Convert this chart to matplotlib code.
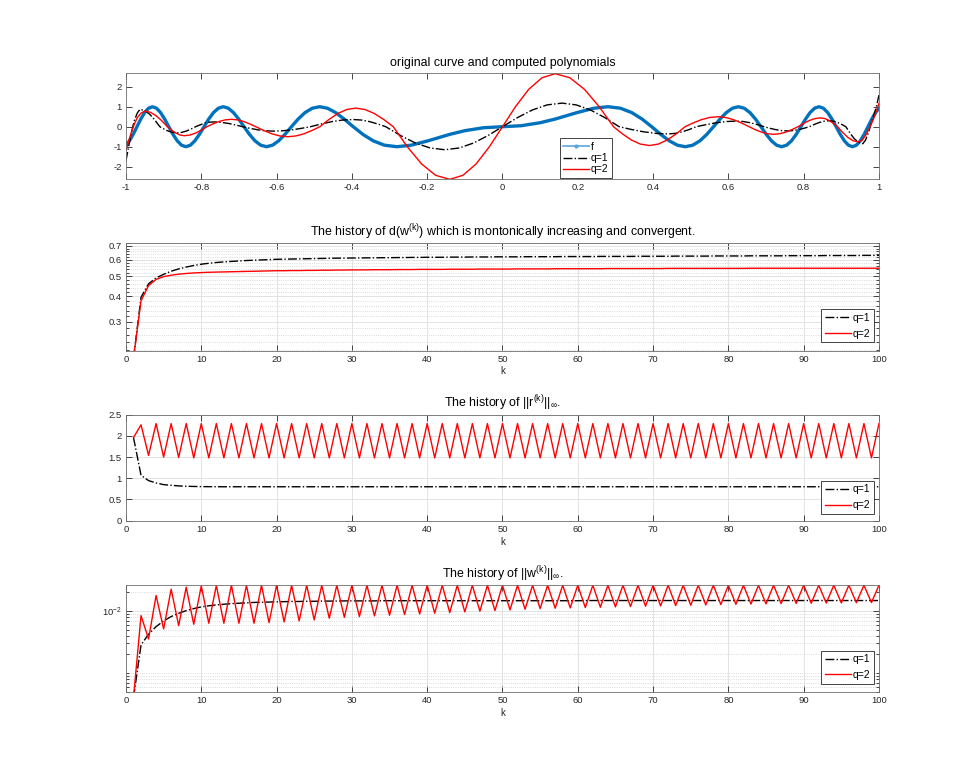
import numpy as np
import matplotlib
matplotlib.use('Agg')
from matplotlib import pyplot as plt
from matplotlib.lines import Line2D
from matplotlib.ticker import FixedLocator, NullFormatter

plt.rcParams['font.family'] = ['Liberation Sans', 'DejaVu Sans']
plt.rcParams['mathtext.fontset'] = 'custom'
plt.rcParams['mathtext.rm'] = 'Liberation Sans'
plt.rcParams['mathtext.it'] = 'Liberation Sans'
plt.rcParams['mathtext.default'] = 'regular'
plt.rcParams['axes.unicode_minus'] = False

# ---- panel 1: original curve f and the two polynomials ----
f_x = [-1.0, -0.99083, -0.98088, -0.97081, -0.96065, -0.95037, -0.93999, -0.92948,
       -0.91886, -0.90811, -0.89724, -0.88623, -0.87508, -0.86379, -0.85234, -0.84075,
       -0.82899, -0.81706, -0.80496, -0.79267, -0.78018, -0.7675, -0.7546, -0.74147,
       -0.72811, -0.7145, -0.70063, -0.68647, -0.67202, -0.65725, -0.64213, -0.62666,
       -0.61079, -0.5945, -0.57775, -0.5605, -0.5427, -0.5243, -0.50523, -0.48541,
       -0.46474, -0.44312, -0.42037, -0.39633, -0.37074, -0.34324, -0.31333, -0.28025,
       -0.2427, -0.19817, -0.14012, -0.1, -0.05,
       0.0,
       0.05, 0.1, 0.14012, 0.19817, 0.2427, 0.28025, 0.31333, 0.34324, 0.37074, 0.39633,
       0.42037, 0.44312, 0.46474, 0.48541, 0.50523, 0.5243, 0.5427, 0.5605, 0.57775,
       0.5945, 0.61079, 0.62666, 0.64213, 0.65725, 0.67202, 0.68647, 0.70063, 0.7145,
       0.72811, 0.74147, 0.7546, 0.7675, 0.78018, 0.79267, 0.80496, 0.81706, 0.82899,
       0.84075, 0.85234, 0.86379, 0.87508, 0.88623, 0.89724, 0.90811, 0.91886, 0.92948,
       0.93999, 0.95037, 0.96065, 0.97081, 0.98088, 0.99083, 1.0]
f_y = [-0.913, -0.707, -0.383, 0.0, 0.383, 0.707, 0.924, 1.0,
       0.924, 0.707, 0.383, 0.0, -0.383, -0.707, -0.924, -1.0,
       -0.924, -0.707, -0.383, 0.0, 0.383, 0.707, 0.924, 1.0,
       0.924, 0.707, 0.383, 0.0, -0.383, -0.707, -0.924, -1.0,
       -0.924, -0.707, -0.383, 0.0, 0.383, 0.707, 0.924, 1.0,
       0.924, 0.707, 0.383, 0.0, -0.383, -0.707, -0.924, -1.0,
       -0.924, -0.707, -0.383, -0.199, -0.05,
       0.0,
       0.05, 0.199, 0.383, 0.707, 0.924, 1.0, 0.924, 0.707, 0.383, 0.0,
       -0.383, -0.707, -0.924, -1.0, -0.924, -0.707, -0.383, 0.0, 0.383,
       0.707, 0.924, 1.0, 0.924, 0.707, 0.383, 0.0, -0.383, -0.707,
       -0.924, -1.0, -0.924, -0.707, -0.383, 0.0, 0.383, 0.707, 0.924,
       1.0, 0.924, 0.707, 0.383, 0.0, -0.383, -0.707, -0.924, -1.0,
       -0.924, -0.707, -0.383, 0.0, 0.383, 0.707, 0.913]

q1_x = [-1.0, -0.992, -0.985, -0.978, -0.97, -0.963, -0.9498, -0.9365, -0.9233, -0.91,
        -0.8988, -0.8875, -0.8763, -0.865, -0.8525, -0.84, -0.8275, -0.815,
        -0.8033, -0.7915, -0.7798, -0.768, -0.7485, -0.729, -0.7095, -0.69,
        -0.6698, -0.6495, -0.6293, -0.609, -0.5843, -0.5595, -0.5348, -0.51,
        -0.4815, -0.453, -0.4245, -0.396, -0.3745, -0.353, -0.3315, -0.31,
        -0.2708, -0.2315, -0.1923, -0.153, -0.1148, -0.0765, -0.0383, 0.0,
        0.0395, 0.079, 0.1185, 0.158, 0.196, 0.234, 0.272, 0.31,
        0.3425, 0.375, 0.4075, 0.44, 0.4588, 0.4775, 0.4963, 0.515,
        0.5415, 0.568, 0.5945, 0.621, 0.6395, 0.658, 0.6765, 0.695,
        0.7105, 0.726, 0.7415, 0.757, 0.7715, 0.786, 0.8005, 0.815,
        0.8283, 0.8415, 0.8548, 0.868, 0.879, 0.89, 0.901, 0.912,
        0.9233, 0.9345, 0.9458, 0.957, 0.964, 0.972, 0.979, 0.986, 0.993, 1.0]
q1_y = [-1.7, -0.9, -0.25, 0.3, 0.68, 0.87, 0.804, 0.615, 0.333, 0.0,
        -0.119, -0.219, -0.286, -0.31, -0.286, -0.219, -0.119, 0.0,
        0.092, 0.17, 0.222, 0.24, 0.222, 0.17, 0.092, 0.0,
        -0.084, -0.156, -0.203, -0.22, -0.203, -0.156, -0.084, 0.0,
        0.138, 0.255, 0.333, 0.36, 0.333, 0.255, 0.138, 0.0,
        -0.44, -0.813, -1.063, -1.15, -1.063, -0.813, -0.44, 0.0,
        0.452, 0.834, 1.09, 1.18, 1.09, 0.834, 0.452, 0.0,
        -0.138, -0.255, -0.333, -0.36, -0.333, -0.255, -0.138, 0.0,
        0.107, 0.198, 0.259, 0.28, 0.259, 0.198, 0.107, 0.0,
        -0.08, -0.148, -0.194, -0.21, -0.194, -0.148, -0.08, 0.0,
        0.115, 0.212, 0.277, 0.3, 0.277, 0.212, 0.115, 0.0,
        -0.326, -0.601, -0.785, -0.85, -0.68, -0.3, 0.15, 0.55, 1.0, 1.58]

q2_x = [-1.0, -0.993, -0.986, -0.978, -0.97, -0.96, -0.95, -0.935, -0.92, -0.905, -0.89,
        -0.8788, -0.8675, -0.8563, -0.845, -0.83, -0.815, -0.8, -0.785,
        -0.7688, -0.7525, -0.7363, -0.72, -0.7038, -0.6875, -0.6713, -0.655,
        -0.6338, -0.6125, -0.5913, -0.57, -0.5488, -0.5275, -0.5063, -0.485,
        -0.4613, -0.4375, -0.4138, -0.39, -0.365, -0.34, -0.315, -0.29,
        -0.2525, -0.215, -0.1775, -0.14, -0.105, -0.07, -0.035, 0.0,
        0.035, 0.07, 0.105, 0.14, 0.1788, 0.2175, 0.2563, 0.295,
        0.3188, 0.3425, 0.3663, 0.39, 0.4138, 0.4375, 0.4613, 0.485,
        0.5068, 0.5285, 0.5503, 0.572, 0.5928, 0.6135, 0.6343, 0.655,
        0.6713, 0.6875, 0.7038, 0.72, 0.7363, 0.7525, 0.7688, 0.785,
        0.8, 0.815, 0.83, 0.845, 0.8563, 0.8675, 0.8788, 0.89,
        0.9038, 0.9175, 0.9313, 0.945, 0.955, 0.965, 0.975, 0.985, 0.993, 1.0]
q2_y = [-1.17, -0.72, -0.3, 0.12, 0.45, 0.68, 0.78, 0.721, 0.551, 0.299, 0.0,
        -0.172, -0.318, -0.416, -0.45, -0.416, -0.318, -0.172, 0.0,
        0.142, 0.262, 0.342, 0.37, 0.342, 0.262, 0.142, 0.0,
        -0.191, -0.354, -0.462, -0.5, -0.462, -0.354, -0.191, 0.0,
        0.356, 0.658, 0.859, 0.93, 0.859, 0.658, 0.356, 0.0,
        -1.007, -1.859, -2.43, -2.63, -2.43, -1.859, -1.007, 0.0,
        1.015, 1.874, 2.449, 2.65, 2.449, 1.874, 1.015, 0.0,
        -0.36, -0.665, -0.869, -0.94, -0.869, -0.665, -0.36, 0.0,
        0.191, 0.354, 0.462, 0.5, 0.462, 0.354, 0.191, 0.0,
        -0.146, -0.269, -0.351, -0.38, -0.351, -0.269, -0.146, 0.0,
        0.168, 0.311, 0.407, 0.44, 0.407, 0.311, 0.168, 0.0,
        -0.291, -0.537, -0.702, -0.76, -0.68, -0.42, -0.05, 0.36, 0.78, 1.17]

x_ticks = [-1, -0.8, -0.6, -0.4, -0.2, 0, 0.2, 0.4, 0.6, 0.8, 1]
x_tick_labels = ['-1', '-0.8', '-0.6', '-0.4', '-0.2', '0', '0.2', '0.4', '0.6', '0.8', '1']

# ---- panels 2-4: history over the iterations k = 1..100 ----
k = np.arange(1, 101)

d_q1 = [0.20, 0.395, 0.459, 0.49, 0.51, 0.528, 0.542, 0.553, 0.563, 0.571,
        0.577, 0.582, 0.586, 0.589, 0.592, 0.595, 0.597, 0.599, 0.601, 0.603,
        0.604, 0.605, 0.606, 0.607, 0.608, 0.609, 0.610, 0.611, 0.611, 0.612,
        0.612, 0.613, 0.613, 0.614, 0.614, 0.615, 0.615, 0.616, 0.616, 0.617,
        0.617, 0.617, 0.618, 0.618, 0.618, 0.619, 0.619, 0.619, 0.620, 0.620,
        0.620, 0.620, 0.621, 0.621, 0.621, 0.621, 0.621, 0.622, 0.622, 0.622,
        0.622, 0.622, 0.623, 0.623, 0.623, 0.623, 0.623, 0.624, 0.624, 0.624,
        0.624, 0.624, 0.625, 0.625, 0.625, 0.625, 0.625, 0.626, 0.626, 0.626,
        0.626, 0.626, 0.627, 0.627, 0.627, 0.627, 0.627, 0.628, 0.628, 0.628,
        0.628, 0.628, 0.629, 0.629, 0.629, 0.629, 0.629, 0.630, 0.630, 0.630]
d_q2 = [0.20, 0.38, 0.45, 0.482, 0.497, 0.505, 0.511, 0.515, 0.518, 0.520,
        0.522, 0.523, 0.524, 0.525, 0.526, 0.527, 0.528, 0.529, 0.530, 0.531,
        0.531, 0.532, 0.532, 0.533, 0.533, 0.534, 0.534, 0.535, 0.535, 0.536,
        0.536, 0.536, 0.537, 0.537, 0.537, 0.538, 0.538, 0.538, 0.539, 0.539,
        0.539, 0.539, 0.540, 0.540, 0.540, 0.540, 0.541, 0.541, 0.541, 0.541,
        0.541, 0.542, 0.542, 0.542, 0.542, 0.542, 0.543, 0.543, 0.543, 0.543,
        0.543, 0.543, 0.543, 0.544, 0.544, 0.544, 0.544, 0.544, 0.544, 0.544,
        0.544, 0.545, 0.545, 0.545, 0.545, 0.545, 0.545, 0.545, 0.545, 0.545,
        0.545, 0.545, 0.546, 0.546, 0.546, 0.546, 0.546, 0.546, 0.546, 0.546,
        0.546, 0.546, 0.546, 0.546, 0.546, 0.546, 0.546, 0.546, 0.546, 0.546]

r_q1 = [1.96, 1.07, 0.945, 0.89, 0.85, 0.835, 0.82, 0.812, 0.807, 0.804,
        0.802, 0.801, 0.80, 0.80, 0.80, 0.80, 0.80, 0.80, 0.80, 0.80,
        0.80, 0.80, 0.80, 0.80, 0.80, 0.80, 0.80, 0.80, 0.80, 0.80,
        0.80, 0.80, 0.80, 0.80, 0.80, 0.80, 0.80, 0.80, 0.80, 0.80,
        0.80, 0.80, 0.80, 0.80, 0.80, 0.80, 0.80, 0.80, 0.80, 0.80,
        0.80, 0.80, 0.80, 0.80, 0.80, 0.80, 0.80, 0.80, 0.80, 0.80,
        0.80, 0.80, 0.80, 0.80, 0.80, 0.80, 0.80, 0.80, 0.80, 0.80,
        0.80, 0.80, 0.80, 0.80, 0.80, 0.80, 0.80, 0.80, 0.80, 0.80,
        0.80, 0.80, 0.80, 0.80, 0.80, 0.80, 0.80, 0.80, 0.80, 0.80,
        0.80, 0.80, 0.80, 0.80, 0.80, 0.80, 0.80, 0.80, 0.80, 0.80]
r_q2 = [1.96, 2.26, 1.54, 2.29, 1.50, 2.29, 1.49, 2.29, 1.48, 2.29,
        1.48, 2.29, 1.48, 2.29, 1.48, 2.29, 1.48, 2.29, 1.48, 2.29,
        1.48, 2.29, 1.48, 2.29, 1.48, 2.29, 1.48, 2.29, 1.48, 2.29,
        1.48, 2.29, 1.48, 2.29, 1.48, 2.29, 1.48, 2.29, 1.48, 2.29,
        1.48, 2.29, 1.48, 2.29, 1.48, 2.29, 1.48, 2.29, 1.48, 2.29,
        1.48, 2.29, 1.48, 2.29, 1.48, 2.29, 1.48, 2.29, 1.48, 2.29,
        1.48, 2.29, 1.48, 2.29, 1.48, 2.29, 1.48, 2.29, 1.48, 2.29,
        1.48, 2.29, 1.48, 2.29, 1.48, 2.29, 1.48, 2.29, 1.48, 2.29,
        1.48, 2.29, 1.48, 2.29, 1.48, 2.29, 1.48, 2.29, 1.48, 2.29,
        1.48, 2.29, 1.48, 2.29, 1.48, 2.29, 1.48, 2.29, 1.48, 2.29]

w_q1 = [4e-4, 0.00283, 0.00421, 0.00558, 0.0069, 0.0081, 0.00916, 0.0101, 0.0109, 0.0116,
        0.0121, 0.0125, 0.0128, 0.0131, 0.0133, 0.0135, 0.0137, 0.0138, 0.0139, 0.0140,
        0.0141, 0.0142, 0.0142, 0.0143, 0.0143, 0.0144, 0.0144, 0.0144, 0.0145, 0.0145,
        0.0145, 0.0145, 0.0145, 0.0146, 0.0146, 0.0146, 0.0146, 0.0146, 0.0146, 0.0146,
        0.0146, 0.0146, 0.0146, 0.0146, 0.0146, 0.0146, 0.0146, 0.0146, 0.0146, 0.0146,
        0.0146, 0.0146, 0.0146, 0.0146, 0.0146, 0.0146, 0.0146, 0.0146, 0.0146, 0.0146,
        0.0147, 0.0147, 0.0147, 0.0147, 0.0147, 0.0147, 0.0147, 0.0147, 0.0147, 0.0147,
        0.0147, 0.0147, 0.0147, 0.0147, 0.0147, 0.0147, 0.0147, 0.0147, 0.0147, 0.0147,
        0.0147, 0.0147, 0.0147, 0.0147, 0.0147, 0.0147, 0.0147, 0.0147, 0.0147, 0.0147,
        0.0147, 0.0147, 0.0147, 0.0147, 0.0147, 0.0147, 0.0147, 0.0147, 0.0147, 0.0147]
w_q2 = [4e-4, 0.0084, 0.00353, 0.0177, 0.00513, 0.0224, 0.0058, 0.0241, 0.0061, 0.0253,
        0.00633, 0.0258, 0.00633, 0.0259, 0.00633, 0.0259, 0.00633, 0.0259, 0.00648, 0.0259,
        0.00665, 0.0259, 0.0069, 0.0259, 0.00716, 0.0259, 0.00762, 0.0259, 0.0079, 0.0259,
        0.0081, 0.0259, 0.0083, 0.0259, 0.00851, 0.0259, 0.00873, 0.0259, 0.00895, 0.0259,
        0.00917, 0.0259, 0.0094, 0.0259, 0.00964, 0.0259, 0.00988, 0.0259, 0.01012, 0.0259,
        0.01038, 0.0259, 0.01064, 0.0259, 0.0109, 0.0259, 0.01104, 0.0259, 0.01118, 0.0259,
        0.01132, 0.0259, 0.01146, 0.0259, 0.0116, 0.0259, 0.01175, 0.0259, 0.0119, 0.0259,
        0.01204, 0.0259, 0.01219, 0.0259, 0.01234, 0.0259, 0.0125, 0.0259, 0.01265, 0.0259,
        0.0128, 0.0259, 0.01289, 0.0259, 0.01297, 0.0259, 0.01313, 0.0259, 0.01321, 0.0259,
        0.0133, 0.0259, 0.01338, 0.0259, 0.01346, 0.0259, 0.01354, 0.0259, 0.01363, 0.0259]

k_ticks = [0, 10, 20, 30, 40, 50, 60, 70, 80, 90, 100]
d_ticks = [0.3, 0.4, 0.5, 0.6, 0.7]
d_minor = [0.22, 0.24, 0.26, 0.28, 0.32, 0.34, 0.36, 0.38, 0.42, 0.44, 0.46, 0.48,
           0.52, 0.54, 0.56, 0.58, 0.62, 0.64, 0.66, 0.68, 0.72]
r_ticks = [0, 0.5, 1, 1.5, 2, 2.5]
w_minor = [5e-4, 6e-4, 7e-4, 8e-4, 9e-4, 1e-3, 2e-3, 3e-3, 4e-3, 5e-3, 6e-3,
           7e-3, 8e-3, 9e-3, 2e-2]

BLUE = '#0072BD'
RED = '#FF0000'
INK = '#262626'
GRID = '#dedede'
TITLE_SIZE = 8.9


def style(ax):
    ax.tick_params(which='both', direction='in', top=True, right=True,
                   labelsize=6.8, colors=INK, width=0.6, pad=3)
    ax.tick_params(which='major', length=4)
    ax.tick_params(which='minor', length=2.2)
    for sp in ax.spines.values():
        sp.set_linewidth(0.6)
        sp.set_color('#6e6e6e')
    ax.set_axisbelow(True)


def add_legend(ax, handles, labels, loc, anchor, spacing):
    leg = ax.legend(handles, labels, loc=loc, bbox_to_anchor=anchor,
                    fontsize=7.5, frameon=True, fancybox=False, framealpha=1,
                    edgecolor=INK, handlelength=2.5, handletextpad=0.15,
                    labelspacing=spacing, borderpad=0.35, borderaxespad=0)
    leg.get_frame().set_linewidth(0.6)
    return leg


fig = plt.figure(figsize=(9.72, 7.79), dpi=100)
ax1 = fig.add_axes([0.1296, 0.7698, 0.7747, 0.1361])
ax2 = fig.add_axes([0.1296, 0.5500, 0.7747, 0.1380])
ax3 = fig.add_axes([0.1296, 0.3316, 0.7747, 0.1361])
ax4 = fig.add_axes([0.1296, 0.1121, 0.7747, 0.1370])

# panel 1
ax1.plot(f_x, f_y, color=BLUE, lw=2.4)
l1, = ax1.plot(q1_x, q1_y, color='k', ls='-.', lw=1.0)
l2, = ax1.plot(q2_x, q2_y, color=RED, lw=1.0)
ax1.set_xlim(-1, 1)
ax1.set_ylim(-2.63, 2.67)
ax1.set_xticks(x_ticks)
ax1.set_xticklabels(x_tick_labels)
ax1.set_yticks([-2, -1, 0, 1, 2])
ax1.set_yticklabels(['-2', '-1', '0', '1', '2'])
ax1.set_title('original curve and computed polynomials', fontsize=TITLE_SIZE, pad=5)
style(ax1)
f_proxy = Line2D([], [], color='#5aa5e0', lw=1.2, marker='.', ms=4)
add_legend(ax1, [f_proxy, l1, l2], ['f', 'q=1', 'q=2'], 'lower left', (0.576, 0.012), 0.12)

# panel 2
a, = ax2.plot(k, d_q1, color='k', ls='-.', lw=1.0)
b, = ax2.plot(k, d_q2, color=RED, lw=1.0)
ax2.set_yscale('log')
ax2.set_xlim(0, 100)
ax2.set_ylim(0.218, 0.723)
ax2.yaxis.set_major_locator(FixedLocator(d_ticks))
ax2.set_yticklabels(['0.3', '0.4', '0.5', '0.6', '0.7'])
ax2.yaxis.set_minor_locator(FixedLocator(d_minor))
ax2.yaxis.set_minor_formatter(NullFormatter())
ax2.set_xticks(k_ticks)
ax2.grid(True, which='major', color=GRID, lw=0.6)
ax2.grid(True, which='minor', axis='y', color='#cfcfcf', ls=':', lw=0.6)
ax2.set_xlabel('k', fontsize=7, labelpad=2, color=INK)
ax2.set_title('The history of d(w$^{(k)}$) which is montonically increasing and convergent.',
              fontsize=TITLE_SIZE, pad=5)
style(ax2)
add_legend(ax2, [a, b], ['q=1', 'q=2'], 'lower right', (0.993, 0.075), 0.55)

# panel 3
a, = ax3.plot(k, r_q1, color='k', ls='-.', lw=1.0)
b, = ax3.plot(k, r_q2, color=RED, lw=1.0)
ax3.set_xlim(0, 100)
ax3.set_ylim(0, 2.5)
ax3.set_yticks(r_ticks)
ax3.set_yticklabels(['0', '0.5', '1', '1.5', '2', '2.5'])
ax3.set_xticks(k_ticks)
ax3.grid(True, which='major', color=GRID, lw=0.6)
ax3.set_xlabel('k', fontsize=7, labelpad=2, color=INK)
ax3.set_title(r'The history of ||r$^{(k)}$||$_{\infty}$.', fontsize=TITLE_SIZE, pad=5)
style(ax3)
add_legend(ax3, [a, b], ['q=1', 'q=2'], 'lower right', (0.993, 0.065), 0.55)

# panel 4
a, = ax4.plot(k, w_q1, color='k', ls='-.', lw=1.0)
b, = ax4.plot(k, w_q2, color=RED, lw=1.0)
ax4.set_yscale('log')
ax4.set_xlim(0, 100)
ax4.set_ylim(5e-4, 0.0262)
ax4.yaxis.set_major_locator(FixedLocator([1e-2]))
ax4.set_yticklabels(['10$^{-2}$'])
ax4.yaxis.set_minor_locator(FixedLocator(w_minor))
ax4.yaxis.set_minor_formatter(NullFormatter())
ax4.set_xticks(k_ticks)
ax4.grid(True, which='major', color=GRID, lw=0.6)
ax4.grid(True, which='minor', axis='y', color='#cfcfcf', ls=':', lw=0.6)
ax4.set_xlabel('k', fontsize=7, labelpad=2, color=INK)
ax4.set_title(r'The history of ||w$^{(k)}$||$_{\infty}$.', fontsize=TITLE_SIZE, pad=5)
style(ax4)
add_legend(ax4, [a, b], ['q=1', 'q=2'], 'lower right', (0.993, 0.075), 0.55)

fig.savefig('out.png', dpi=100)
